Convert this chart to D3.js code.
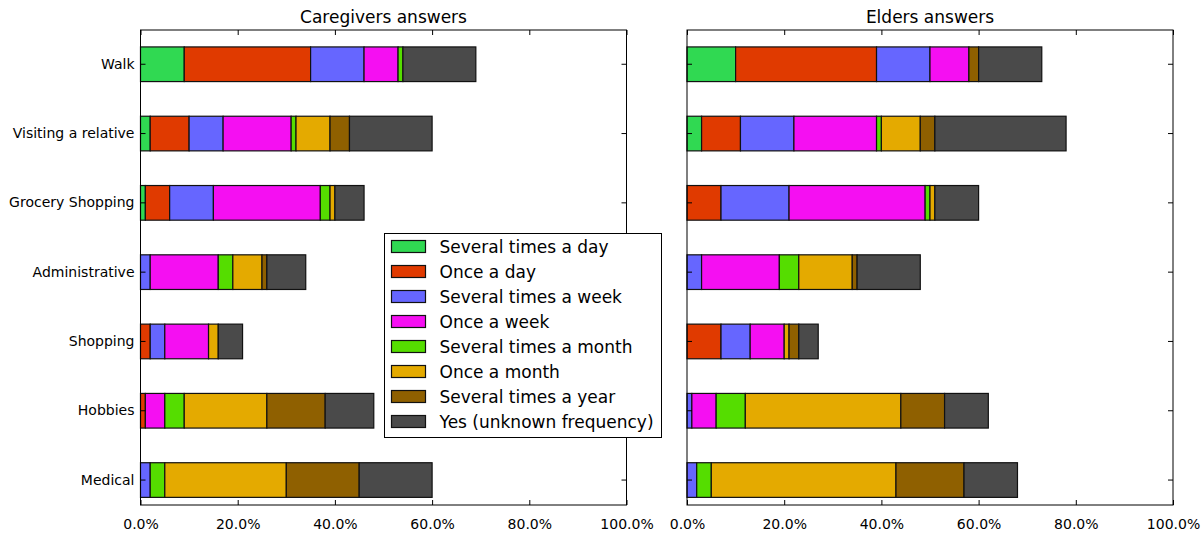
<!DOCTYPE html>
<html>
<head>
<meta charset="utf-8">
<script src="https://cdn.jsdelivr.net/npm/d3@7"></script>
<style>
  body { margin: 0; background: #fff; }
  svg { font-family: "DejaVu Sans", sans-serif; }
  .axis path { display: none; }
  .axis line { stroke: #000; }
  .axis text { font-family: "DejaVu Sans", sans-serif; font-size: 14px; fill: #000; }
</style>
</head>
<body>
<div id="chart"></div>
<script>
// Activities, top to bottom
const categories = ['Walk', 'Visiting a relative', 'Grocery Shopping', 'Administrative', 'Shopping', 'Hobbies', 'Medical'];

// Answer frequencies (stack order, left to right)
const frequencies = ['Several times a day', 'Once a day', 'Several times a week', 'Once a week',
  'Several times a month', 'Once a month', 'Several times a year', 'Yes (unknown frequency)'];
const freqColors = ['#30d952', '#e03a00', '#6666ff', '#f50ff2', '#55dd00', '#e4aa00', '#8f6000', '#4a4a4a'];

// Percent of answers per activity, one row per category, columns follow `frequencies`
const caregiversValues = [
  [9, 26, 11, 7, 1, 0, 0, 15],
  [2, 8, 7, 14, 1, 7, 4, 17],
  [1, 5, 9, 22, 2, 1, 0, 6],
  [0, 0, 2, 14, 3, 6, 1, 8],
  [0, 2, 3, 9, 0, 2, 0, 5],
  [0, 1, 0, 4, 4, 17, 12, 10],
  [0, 0, 2, 0, 3, 25, 15, 15]
];
const eldersValues = [
  [10, 29, 11, 8, 0, 0, 2, 13],
  [3, 8, 11, 17, 1, 8, 3, 27],
  [0, 7, 14, 28, 1, 1, 0, 9],
  [0, 0, 3, 16, 4, 11, 1, 13],
  [0, 7, 6, 7, 0, 1, 2, 4],
  [0, 0, 1, 5, 6, 32, 9, 9],
  [0, 0, 2, 0, 3, 38, 14, 11]
];

const xTicks = [0, 20, 40, 60, 80, 100];

const svg = d3.select('#chart').append('svg')
    .attr('width', 1204)
    .attr('height', 535);

class StackedBarPanel {
  constructor(_config, _data) {
    this.config = {
      left: _config.left,
      top: _config.top || 30,
      width: _config.width || 486,
      height: _config.height || 475,
      title: _config.title,
      showLabels: _config.showLabels
    };
    this.data = _data;
    this.initVis();
  }

  initVis() {
    let vis = this;
    const c = vis.config;

    vis.g = svg.append('g')
        .attr('transform', `translate(${c.left},${c.top})`);

    vis.xScale = d3.scaleLinear()
        .domain([0, 100])
        .range([0, c.width]);

    // band step a bit larger than height/7, bars take half of it
    const step = 69.3;
    vis.yScale = d3.scaleBand()
        .domain(categories)
        .range([-0.4, -0.4 + step * 7])
        .paddingInner(0.5)
        .paddingOuter(0.25);

    vis.renderVis();
  }

  renderVis() {
    let vis = this;
    const c = vis.config;

    const rows = vis.data.map((vals, i) => {
      const row = {category: categories[i]};
      frequencies.forEach((f, j) => row[f] = vals[j]);
      return row;
    });
    const series = d3.stack().keys(frequencies)(rows);

    vis.g.selectAll('.layer')
        .data(series)
        .join('g')
        .attr('class', 'layer')
        .attr('fill', (d, i) => freqColors[i])
      .selectAll('rect')
        .data(d => d.filter(p => p[1] > p[0]))
        .join('rect')
        .attr('x', d => vis.xScale(d[0]))
        .attr('width', d => vis.xScale(d[1]) - vis.xScale(d[0]))
        .attr('y', d => vis.yScale(d.data.category))
        .attr('height', vis.yScale.bandwidth())
        .attr('stroke', '#111')
        .attr('stroke-width', 1.2);

    // axes with inward ticks on all four sides
    vis.g.append('g')
        .attr('class', 'axis')
        .attr('transform', `translate(0,${c.height})`)
        .call(d3.axisBottom(vis.xScale).tickValues(xTicks)
          .tickSize(-5).tickPadding(14).tickFormat(d => d.toFixed(1) + '%'));

    vis.g.append('g')
        .attr('class', 'axis')
        .call(d3.axisTop(vis.xScale).tickValues(xTicks).tickSize(-5).tickFormat(''));

    vis.g.append('g')
        .attr('class', 'axis')
        .call(d3.axisLeft(vis.yScale).tickSize(-5).tickPadding(6)
          .tickFormat(c.showLabels ? (d => d) : ''));

    vis.g.append('g')
        .attr('class', 'axis')
        .attr('transform', `translate(${c.width},0)`)
        .call(d3.axisRight(vis.yScale).tickSize(-5).tickFormat(''));

    vis.g.append('rect')
        .attr('width', c.width)
        .attr('height', c.height)
        .attr('fill', 'none')
        .attr('stroke', '#000')
        .attr('stroke-width', 1);

    vis.g.append('text')
        .attr('x', c.width / 2)
        .attr('y', -7)
        .attr('text-anchor', 'middle')
        .attr('font-size', 17)
        .text(c.title);
  }
}

new StackedBarPanel({left: 140.5, title: 'Caregivers answers', showLabels: true}, caregiversValues);
new StackedBarPanel({left: 687, title: 'Elders answers', showLabels: false}, eldersValues);

// Legend on top of the left panel
const legend = svg.append('g')
    .attr('transform', 'translate(384.5,233.5)');

legend.append('rect')
    .attr('width', 277)
    .attr('height', 204)
    .attr('fill', '#fff')
    .attr('stroke', '#000');

const items = legend.selectAll('.item')
    .data(frequencies)
    .join('g')
    .attr('class', 'item')
    .attr('transform', (d, i) => `translate(0,${13 + i * 25})`);

items.append('rect')
    .attr('x', 7)
    .attr('y', -6)
    .attr('width', 34)
    .attr('height', 12)
    .attr('fill', (d, i) => freqColors[i])
    .attr('stroke', '#111')
    .attr('stroke-width', 1.2);

items.append('text')
    .attr('x', 55)
    .attr('dy', '0.36em')
    .attr('font-size', 17)
    .text(d => d);
</script>
</body>
</html>
